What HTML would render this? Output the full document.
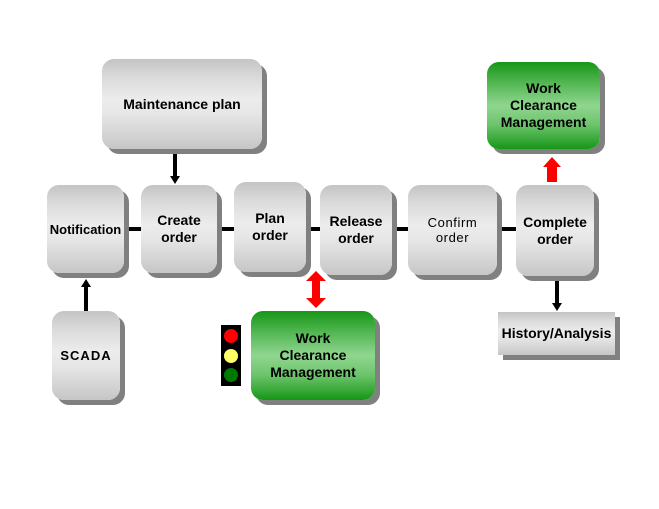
<!DOCTYPE html>
<html>
<head>
<meta charset="utf-8">
<style>
  html,body{margin:0;padding:0;background:#fff;}
  body{width:659px;height:509px;position:relative;overflow:hidden;
       font-family:"Liberation Sans",Arial,sans-serif;}
  .b{position:absolute;display:flex;align-items:center;justify-content:center;
     text-align:center;font-weight:bold;font-size:14px;line-height:17px;color:#000;
     border-radius:12px;box-shadow:5px 5px 0 #808080;
     background:linear-gradient(to bottom,#c4c4c4 0%,#dadada 20%,#ececec 45%,#e6e6e6 62%,#c6c6c6 100%);
     z-index:2;}
  .g{background:linear-gradient(to bottom,#179617 0%,#55b855 25%,#90d690 50%,#6cc46c 72%,#179617 100%);}
  svg{position:absolute;left:0;top:0;z-index:1;}
  svg.top{z-index:3;}
</style>
</head>
<body>
<svg width="659" height="509">
  <!-- horizontal connector -->
  <rect x="120" y="227" width="400" height="4" fill="#000"/>
  <!-- Maintenance -> Create -->
  <rect x="173" y="149" width="4" height="28" fill="#000"/>
  <polygon points="170,176 180,176 175,184" fill="#000"/>
  <!-- SCADA -> Notification -->
  <rect x="84" y="286" width="4" height="26" fill="#000"/>
  <polygon points="81,287 91,287 86,279" fill="#000"/>
  <!-- Complete -> History -->
  <rect x="555" y="278" width="4" height="26" fill="#000"/>
  <polygon points="552,303 562,303 557,311" fill="#000"/>
</svg>

<div class="b" style="left:102px;top:59px;width:160px;height:90px;">Maintenance plan</div>
<div class="b" style="left:47px;top:185px;width:77px;height:88px;font-size:13px;">Notification</div>
<div class="b" style="left:141px;top:185px;width:76px;height:88px;">Create<br>order</div>
<div class="b" style="left:234px;top:182px;width:72px;height:90px;">Plan<br>order</div>
<div class="b" style="left:320px;top:185px;width:72px;height:90px;">Release<br>order</div>
<div class="b" style="left:408px;top:185px;width:89px;height:90px;font-weight:normal;font-size:13px;letter-spacing:0.6px;line-height:15px;">Confirm<br>order</div>
<div class="b" style="left:516px;top:185px;width:78px;height:91px;">Complete<br>order</div>
<div class="b" style="left:52px;top:311px;width:68px;height:89px;font-size:13px;letter-spacing:1px;">SCADA</div>
<div class="b g" style="left:251px;top:311px;width:124px;height:89px;">Work<br>Clearance<br>Management</div>
<div class="b g" style="left:487px;top:62px;width:113px;height:87px;">Work<br>Clearance<br>Management</div>
<div class="b" style="left:498px;top:312px;width:117px;height:43px;border-radius:0;">History/Analysis</div>

<svg class="top" width="659" height="509">
  <!-- red double arrow -->
  <rect x="312" y="280" width="8" height="19" fill="#ff0000"/>
  <polygon points="306,281 316,271 326,281" fill="#ff0000"/>
  <polygon points="306,298 316,308 326,298" fill="#ff0000"/>
  <!-- red up arrow -->
  <rect x="547" y="166" width="10" height="16" fill="#ff0000"/>
  <polygon points="543,167 552,157 561,167" fill="#ff0000"/>
  <!-- traffic light -->
  <rect x="221" y="325" width="20" height="61" fill="#000"/>
  <circle cx="231" cy="336" r="7" fill="#ff0000"/>
  <circle cx="231" cy="356" r="7" fill="#ffff66"/>
  <circle cx="231" cy="375" r="7" fill="#007700"/>
</svg>
</body>
</html>
